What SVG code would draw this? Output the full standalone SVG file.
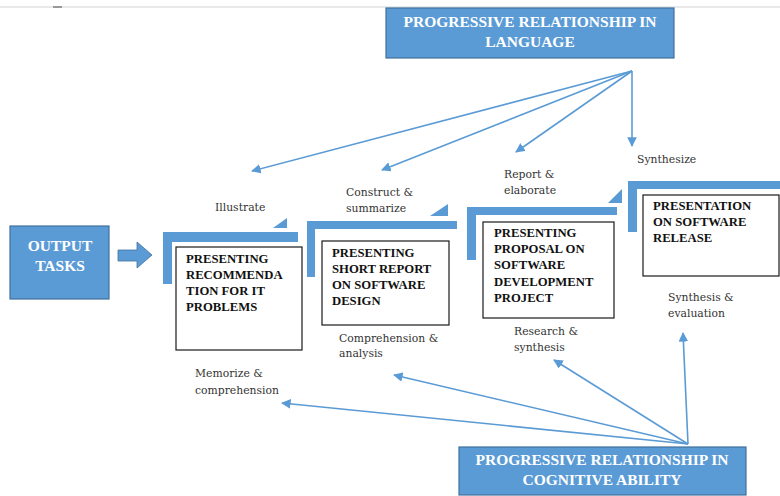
<svg xmlns="http://www.w3.org/2000/svg" width="780" height="496" viewBox="0 0 780 496">
<style>
.bluebox{fill:#5b9bd5;stroke:#41719c;stroke-width:1.2}
.bt{font-family:"Liberation Serif",serif;font-weight:bold;fill:#fff;font-size:15.5px;text-anchor:middle}
.step{fill:#5b9bd5}
.card{fill:#fff;stroke:#1a1a1a;stroke-width:1.2}
.ct{font-family:"Liberation Serif",serif;font-weight:bold;fill:#111;font-size:12.7px}
.lb{font-family:"DejaVu Serif","Liberation Serif",serif;fill:#333;font-size:10.8px}
.con{stroke:#5b9bd5;stroke-width:1.6;fill:none;marker-end:url(#ah)}
</style>
<defs>
<marker id="ah" viewBox="0 0 10 10" refX="9" refY="5" markerWidth="6" markerHeight="6" markerUnits="strokeWidth" orient="auto">
<path d="M0,0 L10,5 L0,10 Z" fill="#5b9bd5"/>
</marker>
</defs>
<rect width="780" height="496" fill="#fff"/>
<line x1="0" y1="7" x2="780" y2="7" stroke="#e2e2e2" stroke-width="1.5"/>
<rect x="53" y="6" width="9" height="2" fill="#999"/>

<g id="title-language">
<rect class="bluebox" x="386" y="8" width="288" height="50"/>
<text class="bt" x="530" y="27">PROGRESSIVE RELATIONSHIP IN</text>
<text class="bt" x="530" y="47">LANGUAGE</text>
</g>

<g id="title-cognitive">
<rect class="bluebox" x="459" y="447" width="287" height="48"/>
<text class="bt" x="602" y="465">PROGRESSIVE RELATIONSHIP IN</text>
<text class="bt" x="602" y="485">COGNITIVE ABILITY</text>
</g>

<g id="output-tasks">
<rect class="bluebox" x="10" y="226" width="99" height="73"/>
<text class="bt" x="60" y="251">OUTPUT</text>
<text class="bt" x="60" y="271">TASKS</text>
<path d="M118,250 H137 V242 L152,255 L137,268 V261 H118 Z" fill="#5b9bd5" stroke="#41719c" stroke-width="0.8"/>
</g>

<g id="step1">
<path class="step" d="M163,232 H298 V242 H172 V284 H163 Z"/>
<path class="step" d="M273,228 L287,228 L287,218 Z"/>
<rect class="card" x="176" y="247" width="126" height="103"/>
<text class="ct" x="186" y="263">PRESENTING</text>
<text class="ct" x="186" y="279">RECOMMENDA</text>
<text class="ct" x="186" y="295">TION FOR IT</text>
<text class="ct" x="186" y="311">PROBLEMS</text>
</g>

<g id="step2">
<path class="step" d="M307,221 H457 V229 H315 V277 H307 Z"/>
<path class="step" d="M430,216 L448,216 L448,204 Z"/>
<rect class="card" x="322" y="241" width="127" height="84"/>
<text class="ct" x="332" y="257">PRESENTING</text>
<text class="ct" x="332" y="273">SHORT REPORT</text>
<text class="ct" x="332" y="289">ON SOFTWARE</text>
<text class="ct" x="332" y="305">DESIGN</text>
</g>

<g id="step3">
<path class="step" d="M467,207 H617 V215 H476 V260 H467 Z"/>
<path class="step" d="M608,203 L622,203 L622,189 Z"/>
<rect class="card" x="483" y="222" width="131" height="96"/>
<text class="ct" x="494" y="237">PRESENTING</text>
<text class="ct" x="494" y="253">PROPOSAL ON</text>
<text class="ct" x="494" y="269">SOFTWARE</text>
<text class="ct" x="494" y="286">DEVELOPMENT</text>
<text class="ct" x="494" y="302">PROJECT</text>
</g>

<g id="step4">
<path class="step" d="M628,181 H780 V189 H637 V232 H628 Z"/>
<rect class="card" x="643" y="195" width="136" height="81"/>
<text class="ct" x="653" y="210">PRESENTATION</text>
<text class="ct" x="653" y="226">ON SOFTWARE</text>
<text class="ct" x="653" y="242">RELEASE</text>
</g>

<g id="labels">
<text class="lb" x="215" y="211">Illustrate</text>
<text class="lb" x="346" y="196">Construct &amp;</text>
<text class="lb" x="346" y="212">summarize</text>
<text class="lb" x="504" y="178">Report &amp;</text>
<text class="lb" x="504" y="194">elaborate</text>
<text class="lb" x="637" y="163">Synthesize</text>
<text class="lb" x="339" y="342">Comprehension &amp;</text>
<text class="lb" x="339" y="357">analysis</text>
<text class="lb" x="514" y="335">Research &amp;</text>
<text class="lb" x="514" y="351">synthesis</text>
<text class="lb" x="668" y="301">Synthesis &amp;</text>
<text class="lb" x="668" y="317">evaluation</text>
<text class="lb" x="195" y="377">Memorize &amp;</text>
<text class="lb" x="195" y="394">comprehension</text>
</g>

<g id="connectors">
<line class="con" x1="632" y1="71" x2="252" y2="171"/>
<line class="con" x1="632" y1="71" x2="382" y2="170"/>
<line class="con" x1="632" y1="71" x2="516" y2="152"/>
<line class="con" x1="632" y1="71" x2="632" y2="146"/>
<line class="con" x1="688" y1="444" x2="282" y2="403"/>
<line class="con" x1="688" y1="444" x2="394" y2="375"/>
<line class="con" x1="688" y1="444" x2="554" y2="360"/>
<line class="con" x1="688" y1="444" x2="683" y2="333"/>
</g>
</svg>
